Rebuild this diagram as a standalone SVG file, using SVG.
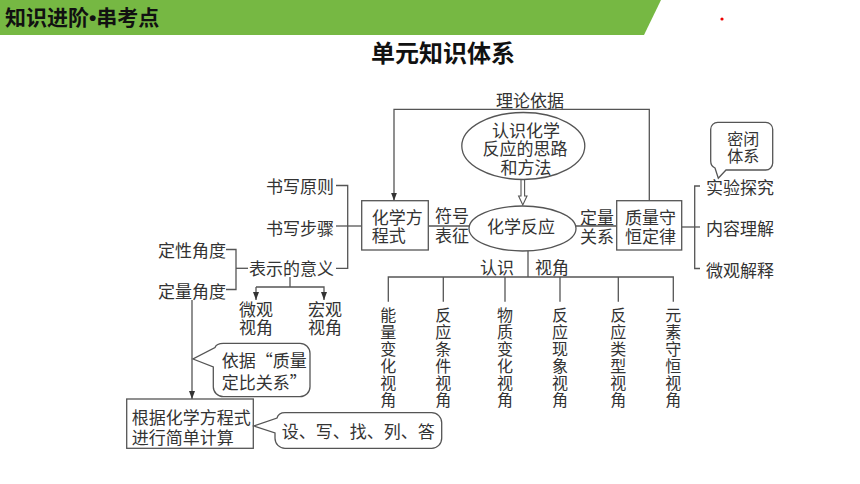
<svg xmlns="http://www.w3.org/2000/svg" width="860" height="484" viewBox="0 0 860 484">
<defs>
<style>
text{font-family:"Noto Sans CJK SC","Noto Sans",sans-serif;font-size:17px;fill:#333;}
.t{text-anchor:middle;}
.e{text-anchor:end;}
.col{font-size:16px;}
.ln{fill:none;stroke:#555;stroke-width:1.3;}
.bx{fill:#fff;stroke:#555;stroke-width:1.3;}
</style>
<marker id="ah" viewBox="0 0 8 8" refX="8" refY="4" markerWidth="8" markerHeight="8" markerUnits="userSpaceOnUse" orient="auto">
<path d="M0,1 L8,4 L0,7 z" fill="#333"/>
</marker>
</defs>
<rect width="860" height="484" fill="#fff"/>
<g id="header">
<polygon points="0,0 661,0 644,35 0,35" fill="#76B843"/>
<text x="5" y="25" style="font-size:21px;font-weight:700;fill:#111">知识进阶<tspan style="font-family:'Liberation Sans',sans-serif">•</tspan>串考点</text>
<circle cx="722" cy="19" r="1.6" fill="#e00"/>
<text class="t" x="443" y="62" style="font-size:24px;font-weight:700;fill:#111">单元知识体系</text>
</g>
<g id="connectors">
<polyline class="ln" points="649.3,200.7 649.3,109.3 394,109.3 394,200.7" marker-end="url(#ah)"/>
<line class="ln" x1="428.3" y1="226" x2="469" y2="226"/>
<line class="ln" x1="576" y1="226" x2="616.7" y2="226"/>
<line class="ln" x1="528" y1="251" x2="528" y2="277"/>
<polyline class="ln" points="388.3,301.7 388.3,277 673.3,277 673.3,301.7"/>
<line class="ln" x1="443.3" y1="277" x2="443.3" y2="301.7"/>
<line class="ln" x1="505" y1="277" x2="505" y2="301.7"/>
<line class="ln" x1="560" y1="277" x2="560" y2="301.7"/>
<line class="ln" x1="618.3" y1="277" x2="618.3" y2="301.7"/>
<polygon points="521,179 524.6,179 524.6,196 527,196 522.8,205 518.6,196 521,196" fill="#fff" stroke="#555" stroke-width="1.1"/>
<polyline class="ln" points="336,185.5 347.7,185.5 347.7,268.3 336,268.3"/>
<line class="ln" x1="336" y1="226" x2="361.7" y2="226"/>
<polyline class="ln" points="226,249.5 236,249.5 236,289.5 226,289.5"/>
<line class="ln" x1="236" y1="268.3" x2="248" y2="268.3"/>
<line class="ln" x1="290" y1="277" x2="290" y2="287"/>
<polyline class="ln" points="256,287 324,287 324,300" marker-end="url(#ah)"/>
<line class="ln" x1="256" y1="287" x2="256" y2="300" marker-end="url(#ah)"/>
<line class="ln" x1="192" y1="300" x2="192" y2="399" marker-end="url(#ah)"/>
<line class="ln" x1="681.7" y1="227" x2="700" y2="227"/>
<polyline class="ln" points="700,186 694.7,186 694.7,268.5 700,268.5"/>
</g>
<g id="theory-label"><text class="t" x="530" y="106.5">理论依据</text></g>
<g id="method">
<ellipse class="bx" cx="523.3" cy="146" rx="61.5" ry="33.5"/>
<text class="t" x="526" y="136.5">认识化学</text>
<text class="t" x="525" y="155">反应的思路</text>
<text class="t" x="526" y="173.5">和方法</text>
</g>
<g id="reaction">
<ellipse class="bx" cx="522.5" cy="228.5" rx="53.5" ry="22.5"/>
<text class="t" x="521" y="233">化学反应</text>
</g>
<g id="equation">
<rect class="bx" x="361.7" y="200.7" width="66.6" height="49.3"/>
<text x="371.7" y="224">化学方</text>
<text x="371.7" y="241.5">程式</text>
</g>
<g id="symbol-label">
<text x="435" y="222">符号</text>
<text x="435" y="242">表征</text>
</g>
<g id="quant-label">
<text x="580" y="223.5">定量</text>
<text x="580" y="242.5">关系</text>
</g>
<g id="conservation">
<rect class="bx" x="616.7" y="200.7" width="65" height="49.3"/>
<text x="625" y="224">质量守</text>
<text x="625" y="242.5">恒定律</text>
</g>
<g id="view-label">
<text x="480" y="273.5">认识</text>
<text x="535" y="273.5">视角</text>
</g>
<g id="perspectives">
<text class="t col" x="388.3" y="321"><tspan x="388.3">能</tspan><tspan x="388.3" dy="17">量</tspan><tspan x="388.3" dy="17">变</tspan><tspan x="388.3" dy="17">化</tspan><tspan x="388.3" dy="17">视</tspan><tspan x="388.3" dy="17">角</tspan></text>
<text class="t col" x="443.3" y="321"><tspan x="443.3">反</tspan><tspan x="443.3" dy="17">应</tspan><tspan x="443.3" dy="17">条</tspan><tspan x="443.3" dy="17">件</tspan><tspan x="443.3" dy="17">视</tspan><tspan x="443.3" dy="17">角</tspan></text>
<text class="t col" x="505" y="321"><tspan x="505">物</tspan><tspan x="505" dy="17">质</tspan><tspan x="505" dy="17">变</tspan><tspan x="505" dy="17">化</tspan><tspan x="505" dy="17">视</tspan><tspan x="505" dy="17">角</tspan></text>
<text class="t col" x="560" y="321"><tspan x="560">反</tspan><tspan x="560" dy="17">应</tspan><tspan x="560" dy="17">现</tspan><tspan x="560" dy="17">象</tspan><tspan x="560" dy="17">视</tspan><tspan x="560" dy="17">角</tspan></text>
<text class="t col" x="618.3" y="321"><tspan x="618.3">反</tspan><tspan x="618.3" dy="17">应</tspan><tspan x="618.3" dy="17">类</tspan><tspan x="618.3" dy="17">型</tspan><tspan x="618.3" dy="17">视</tspan><tspan x="618.3" dy="17">角</tspan></text>
<text class="t col" x="673.3" y="321"><tspan x="673.3">元</tspan><tspan x="673.3" dy="17">素</tspan><tspan x="673.3" dy="17">守</tspan><tspan x="673.3" dy="17">恒</tspan><tspan x="673.3" dy="17">视</tspan><tspan x="673.3" dy="17">角</tspan></text>
</g>
<g id="writing">
<text class="e" x="334" y="192.5">书写原则</text>
<text class="e" x="334" y="234.5">书写步骤</text>
<text class="e" x="334" y="274.5">表示的意义</text>
</g>
<g id="angles">
<text x="158" y="256.5">定性角度</text>
<text x="158" y="297.5">定量角度</text>
</g>
<g id="micro-macro">
<text class="t" x="256" y="315.5">微观</text>
<text class="t" x="256" y="333.5">视角</text>
<text class="t" x="325" y="315.5">宏观</text>
<text class="t" x="325" y="333.5">视角</text>
</g>
<g id="ratio-callout">
<path class="bx" d="M223.3,343.3 H300 A10,10 0 0 1 310,353.3 V386.7 A10,10 0 0 1 300,396.7 H223.3 A10,10 0 0 1 213.3,386.7 V367 L193,359 L215,347.5 Q216.5,343.3 223.3,343.3 Z"/>
<text x="221.7" y="366.5">依据“质量</text>
<text x="221.7" y="388.5">定比关系”</text>
</g>
<g id="calculation">
<rect class="bx" x="126.7" y="399" width="126.6" height="49.3"/>
<text x="131.7" y="423.5">根据化学方程式</text>
<text x="131.7" y="443.5">进行简单计算</text>
</g>
<g id="steps-callout">
<path class="bx" d="M285,412.7 H431.7 A10,10 0 0 1 441.7,422.7 V438.3 A10,10 0 0 1 431.7,448.3 H285 A10,10 0 0 1 275,438.3 V433 L254,426 L277,418 Q278.5,412.7 285,412.7 Z"/>
<text x="281.7" y="437.5">设、写、找、列、答</text>
</g>
<g id="law-items">
<text x="706" y="194">实验探究</text>
<text x="706" y="235">内容理解</text>
<text x="706" y="276.5">微观解释</text>
</g>
<g id="closed-callout">
<path class="bx" d="M717.7,122.3 H765.7 A7,7 0 0 1 772.7,129.3 V163 A7,7 0 0 1 765.7,170 H726 L718.3,178.3 L715,168 Q710.7,166 710.7,161 V129.3 A7,7 0 0 1 717.7,122.3 Z"/>
<text class="t col" x="743.3" y="144.5">密闭</text>
<text class="t col" x="743.3" y="161.5">体系</text>
</g>
</svg>
